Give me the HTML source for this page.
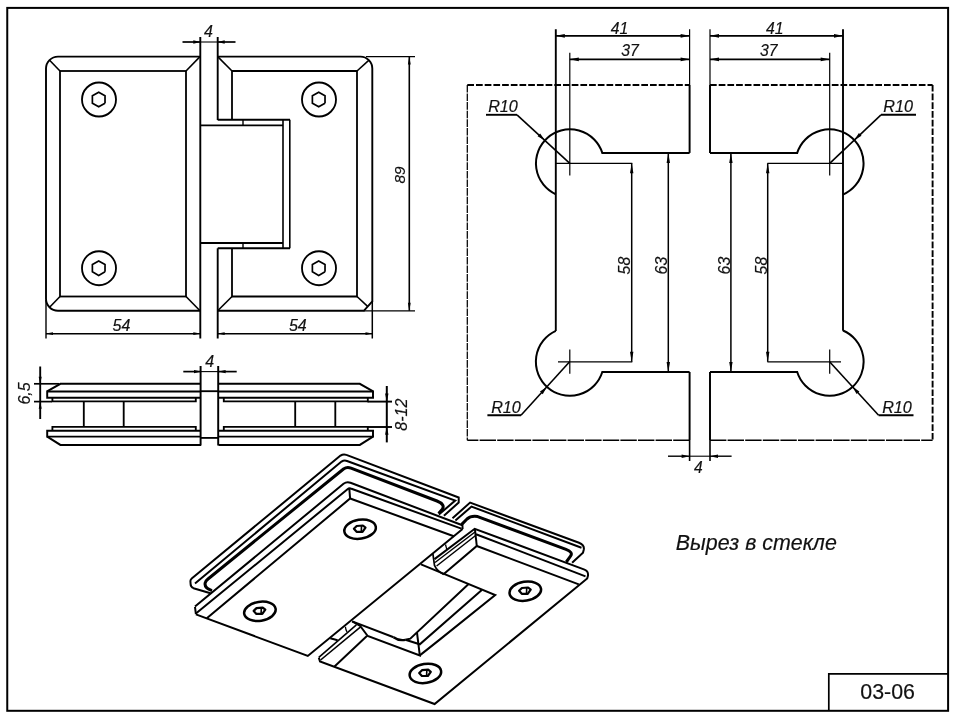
<!DOCTYPE html>
<html><head><meta charset="utf-8"><title>03-06</title>
<style>
html,body{margin:0;padding:0;background:#fff;}
body{width:957px;height:722px;overflow:hidden;}
svg{display:block;filter:grayscale(1);}
svg *{font-family:"Liberation Sans",sans-serif;}
</style></head>
<body>
<svg width="957" height="722" viewBox="0 0 957 722">
<rect x="0" y="0" width="957" height="722" fill="#fff" stroke="none"/>
<g fill="none" stroke="#000" stroke-linecap="butt" stroke-linejoin="miter">
<rect x="7.25" y="7.9" width="940.85" height="702.9" stroke-width="2.0"/>
<polyline points="828.8,711 828.8,673.9 948,673.9" stroke-width="1.7" />
<text fill="#111" stroke="#111" stroke-width="0.18" x="887.6" y="698.9" font-size="21.4" text-anchor="middle" style="" >03-06</text>
<text fill="#111" stroke="#111" stroke-width="0.18" x="756.3" y="549.9" font-size="21.4" text-anchor="middle" style="font-style:italic;" >Вырез в стекле</text>
<path d="M200.3,56.6 H58 A12,12 0 0 0 46,68.6 V298.8 A12,12 0 0 0 58,310.8 H200.3" stroke-width="1.9" />
<rect x="60" y="71" width="126" height="225.5" stroke-width="1.8"/>
<line x1="49.6" y1="60.2" x2="60" y2="71" stroke-width="1.6" />
<line x1="200" y1="56.6" x2="186" y2="71" stroke-width="1.6" />
<line x1="49.6" y1="307.2" x2="60" y2="296.5" stroke-width="1.6" />
<line x1="200" y1="310.8" x2="186" y2="296.5" stroke-width="1.6" />
<line x1="200.3" y1="37" x2="200.3" y2="338.5" stroke-width="1.9" />
<line x1="217.7" y1="37" x2="217.7" y2="120" stroke-width="1.9" />
<line x1="217.7" y1="248.3" x2="217.7" y2="338.5" stroke-width="1.9" />
<path d="M217.7,56.6 H360.5 A12,12 0 0 1 372.3,68.6 V301.3 L363.8,310.8 H217.7" stroke-width="1.9" />
<polyline points="232,120 232,71 357,71 357,296.5 232,296.5 232,248.3" stroke-width="1.8" />
<line x1="217.7" y1="56.6" x2="232" y2="71" stroke-width="1.6" />
<line x1="369" y1="60.2" x2="357" y2="71" stroke-width="1.6" />
<line x1="217.7" y1="310.8" x2="232" y2="296.5" stroke-width="1.6" />
<line x1="367.6" y1="306.3" x2="357" y2="296.5" stroke-width="1.6" />
<line x1="217.7" y1="119.8" x2="290" y2="119.8" stroke-width="1.9" />
<line x1="200.3" y1="125.4" x2="283" y2="125.4" stroke-width="1.9" />
<line x1="217.7" y1="248.3" x2="290" y2="248.3" stroke-width="1.9" />
<line x1="200.3" y1="243" x2="283" y2="243" stroke-width="1.9" />
<line x1="283" y1="119.8" x2="283" y2="248.3" stroke-width="1.6" />
<line x1="289.8" y1="119.8" x2="289.8" y2="248.3" stroke-width="1.6" />
<line x1="243" y1="119.8" x2="243" y2="125.4" stroke-width="1.4" />
<line x1="243" y1="243" x2="243" y2="248.3" stroke-width="1.4" />
<circle cx="99" cy="99.5" r="17" stroke-width="1.85"/>
<polyline points="105.02,103.15 98.7,106.8 92.38,103.15 92.38,95.85 98.7,92.2 105.02,95.85 105.02,103.15" stroke-width="1.7" />
<circle cx="99" cy="268.2" r="17" stroke-width="1.85"/>
<polyline points="105.02,271.85 98.7,275.5 92.38,271.85 92.38,264.55 98.7,260.9 105.02,264.55 105.02,271.85" stroke-width="1.7" />
<circle cx="319" cy="99.5" r="17" stroke-width="1.85"/>
<polyline points="325.02,103.15 318.7,106.8 312.38,103.15 312.38,95.85 318.7,92.2 325.02,95.85 325.02,103.15" stroke-width="1.7" />
<circle cx="319" cy="268.2" r="17" stroke-width="1.85"/>
<polyline points="325.02,271.85 318.7,275.5 312.38,271.85 312.38,264.55 318.7,260.9 325.02,264.55 325.02,271.85" stroke-width="1.7" />
<line x1="182.5" y1="42" x2="200.3" y2="42" stroke-width="1.7" />
<line x1="217.7" y1="42" x2="235.5" y2="42" stroke-width="1.7" />
<line x1="200.3" y1="42" x2="217.7" y2="42" stroke-width="1.1" />
<polygon points="200.30,42.00 193.30,43.70 193.30,40.30" fill="#000" stroke="none"/>
<polygon points="217.70,42.00 224.70,40.30 224.70,43.70" fill="#000" stroke="none"/>
<text fill="#111" stroke="#111" stroke-width="0.18" x="208.5" y="37.2" font-size="16" text-anchor="middle" style="font-style:italic;" >4</text>
<line x1="46" y1="300" x2="46" y2="338.5" stroke-width="1.4" />
<line x1="372.3" y1="301" x2="372.3" y2="338.5" stroke-width="1.5" />
<line x1="46" y1="333.7" x2="200.3" y2="333.7" stroke-width="1.6" />
<line x1="217.7" y1="333.7" x2="372.5" y2="333.7" stroke-width="1.6" />
<polygon points="46.00,333.60 53.00,332.30 53.00,334.90" fill="#000" stroke="none"/>
<polygon points="200.30,333.60 193.30,334.90 193.30,332.30" fill="#000" stroke="none"/>
<polygon points="217.70,333.60 224.70,332.30 224.70,334.90" fill="#000" stroke="none"/>
<polygon points="372.50,333.60 365.50,334.90 365.50,332.30" fill="#000" stroke="none"/>
<text fill="#111" stroke="#111" stroke-width="0.18" x="121.5" y="331.3" font-size="16" text-anchor="middle" style="font-style:italic;" >54</text>
<text fill="#111" stroke="#111" stroke-width="0.18" x="297.8" y="331.3" font-size="16" text-anchor="middle" style="font-style:italic;" >54</text>
<line x1="366" y1="56.6" x2="415" y2="56.6" stroke-width="1.3" />
<line x1="363.8" y1="310.8" x2="415" y2="310.8" stroke-width="1.3" />
<line x1="409.3" y1="56.6" x2="409.3" y2="310.8" stroke-width="1.6" />
<polygon points="409.30,56.60 410.70,64.60 407.90,64.60" fill="#000" stroke="none"/>
<polygon points="409.30,310.80 407.90,302.80 410.70,302.80" fill="#000" stroke="none"/>
<text fill="#111" stroke="#111" stroke-width="0.18" x="405.3" y="175" font-size="15.4" text-anchor="middle" style="font-style:italic;" transform="rotate(-90 405.3 175)" >89</text>
<polyline points="201,383.8 60.400000000000006,383.8 48.400000000000006,390.6 47.2,391.4" stroke-width="1.95" />
<polyline points="201,391.4 47.2,391.4 47.2,397.8 201,397.8" stroke-width="1.95" />
<polyline points="195.8,397.8 195.8,401.4 52.400000000000006,401.4 52.400000000000006,397.8" stroke-width="1.85" />
<polyline points="195.8,430.7 195.8,426.8 52.400000000000006,426.8 52.400000000000006,430.7" stroke-width="1.85" />
<polyline points="201,430.7 47.2,430.7 47.2,436.6 201,436.6" stroke-width="1.95" />
<polyline points="47.2,436.6 48.400000000000006,437.4 60.400000000000006,444.9 201,444.9" stroke-width="1.95" />
<polyline points="218.6,383.8 359.8,383.8 371.8,390.6 373,391.4" stroke-width="1.95" />
<polyline points="218.6,391.4 373,391.4 373,397.8 218.6,397.8" stroke-width="1.95" />
<polyline points="223.79999999999998,397.8 223.79999999999998,401.4 367.8,401.4 367.8,397.8" stroke-width="1.85" />
<polyline points="223.79999999999998,430.7 223.79999999999998,426.8 367.8,426.8 367.8,430.7" stroke-width="1.85" />
<polyline points="218.6,430.7 373,430.7 373,436.6 218.6,436.6" stroke-width="1.95" />
<polyline points="373,436.6 371.8,437.4 359.8,444.9 218.6,444.9" stroke-width="1.95" />
<line x1="200.6" y1="366" x2="200.6" y2="445.5" stroke-width="1.95" />
<line x1="218.2" y1="366" x2="218.2" y2="445.5" stroke-width="1.95" />
<line x1="200.6" y1="391.2" x2="218.2" y2="391.2" stroke-width="1.85" />
<line x1="200.6" y1="437.9" x2="218.2" y2="437.9" stroke-width="1.85" />
<line x1="83.8" y1="401.4" x2="83.8" y2="426.8" stroke-width="1.85" />
<line x1="123.7" y1="401.4" x2="123.7" y2="426.8" stroke-width="1.85" />
<line x1="295.2" y1="401.4" x2="295.2" y2="426.8" stroke-width="1.85" />
<line x1="335.3" y1="401.4" x2="335.3" y2="426.8" stroke-width="1.85" />
<line x1="183.3" y1="371.6" x2="201" y2="371.6" stroke-width="1.7" />
<line x1="218.6" y1="371.6" x2="236.7" y2="371.6" stroke-width="1.7" />
<line x1="201" y1="371.6" x2="218.6" y2="371.6" stroke-width="1.1" />
<polygon points="201.00,371.60 194.00,373.30 194.00,369.90" fill="#000" stroke="none"/>
<polygon points="218.60,371.60 225.60,369.90 225.60,373.30" fill="#000" stroke="none"/>
<text fill="#111" stroke="#111" stroke-width="0.18" x="209.6" y="366.9" font-size="16" text-anchor="middle" style="font-style:italic;" >4</text>
<line x1="40.2" y1="366.5" x2="40.2" y2="419" stroke-width="1.9" />
<line x1="34" y1="383.8" x2="59" y2="383.8" stroke-width="1.7" />
<line x1="34" y1="401.6" x2="52" y2="401.6" stroke-width="1.7" />
<polygon points="40.20,383.80 38.70,376.80 41.70,376.80" fill="#000" stroke="none"/>
<polygon points="40.20,401.80 41.70,408.80 38.70,408.80" fill="#000" stroke="none"/>
<text fill="#111" stroke="#111" stroke-width="0.18" x="30.2" y="393.4" font-size="16" text-anchor="middle" style="font-style:italic;" transform="rotate(-90 30.2 393.4)" >6,5</text>
<line x1="386.8" y1="386" x2="386.8" y2="442.4" stroke-width="2.0" />
<line x1="367.5" y1="401.6" x2="392" y2="401.6" stroke-width="1.9" />
<line x1="367.5" y1="427" x2="392" y2="427" stroke-width="1.9" />
<polygon points="386.80,401.40 385.10,393.40 388.50,393.40" fill="#000" stroke="none"/>
<polygon points="386.80,426.80 388.50,434.80 385.10,434.80" fill="#000" stroke="none"/>
<text fill="#111" stroke="#111" stroke-width="0.18" x="406.9" y="414.6" font-size="16" text-anchor="middle" style="font-style:italic;" transform="rotate(-90 406.9 414.6)" >8-12</text>
<line x1="467.3" y1="84.9" x2="689.6" y2="84.9" stroke-width="2.0" stroke-dasharray="6.7 2.0"/>
<line x1="710" y1="84.9" x2="932.6" y2="84.9" stroke-width="2.0" stroke-dasharray="6.7 2.0"/>
<line x1="932.6" y1="84.9" x2="932.6" y2="440.2" stroke-width="1.9" stroke-dasharray="6.7 2.0"/>
<line x1="467.3" y1="84.9" x2="467.3" y2="440.2" stroke-width="1.25" stroke-dasharray="7.6 1.0"/>
<line x1="689.6" y1="440.2" x2="467.3" y2="440.2" stroke-width="1.35" stroke-dasharray="16.4 1.2"/>
<line x1="710" y1="440.2" x2="932.6" y2="440.2" stroke-width="1.35" stroke-dasharray="16.4 1.2"/>
<line x1="555.8" y1="29.2" x2="555.8" y2="331.11613323034067" stroke-width="1.9" />
<line x1="689.6" y1="29.2" x2="689.6" y2="85" stroke-width="1.2" />
<line x1="689.6" y1="85" x2="689.6" y2="152.9" stroke-width="1.95" />
<line x1="689.6" y1="372" x2="689.6" y2="440" stroke-width="1.95" />
<line x1="689.6" y1="440" x2="689.6" y2="461" stroke-width="1.6" />
<path d="M689.6,152.9 H602.30 A34,34 0 1 0 555.8,194.28" stroke-width="2.0" />
<path d="M689.6,372 H602.30 A34,34 0 1 1 555.8,330.82" stroke-width="2.0" />
<line x1="569.8" y1="52.8" x2="569.8" y2="175.5" stroke-width="1.2" />
<line x1="569.8" y1="349.5" x2="569.8" y2="373.8" stroke-width="1.2" />
<line x1="843" y1="29.2" x2="843" y2="330.80926654742655" stroke-width="1.9" />
<line x1="710" y1="29.2" x2="710" y2="85" stroke-width="1.2" />
<line x1="710" y1="85" x2="710" y2="152.9" stroke-width="1.95" />
<line x1="710" y1="372" x2="710" y2="440" stroke-width="1.95" />
<line x1="710" y1="440" x2="710" y2="461" stroke-width="1.6" />
<path d="M710,152.9 H797.20 A34,34 0 1 1 843,194.59" stroke-width="2.0" />
<path d="M710,372 H797.20 A34,34 0 1 0 843,330.51" stroke-width="2.0" />
<line x1="829.7" y1="52.8" x2="829.7" y2="175.5" stroke-width="1.2" />
<line x1="829.7" y1="349.5" x2="829.7" y2="373.8" stroke-width="1.2" />
<line x1="555.8" y1="163.3" x2="632.3" y2="163.3" stroke-width="1.2" />
<line x1="558" y1="361.8" x2="632.3" y2="361.8" stroke-width="1.3" />
<line x1="767.4" y1="163.3" x2="843" y2="163.3" stroke-width="1.2" />
<line x1="767.4" y1="361.8" x2="841" y2="361.8" stroke-width="1.3" />
<line x1="555.8" y1="35.8" x2="689.6" y2="35.8" stroke-width="1.8" />
<polygon points="555.80,35.80 564.80,33.90 564.80,37.70" fill="#000" stroke="none"/>
<polygon points="689.60,35.80 680.60,37.70 680.60,33.90" fill="#000" stroke="none"/>
<line x1="569.8" y1="59.3" x2="689.6" y2="59.3" stroke-width="1.8" />
<polygon points="569.80,59.30 578.80,57.40 578.80,61.20" fill="#000" stroke="none"/>
<polygon points="689.60,59.30 680.60,61.20 680.60,57.40" fill="#000" stroke="none"/>
<line x1="710" y1="35.8" x2="843" y2="35.8" stroke-width="1.8" />
<polygon points="710.00,35.80 719.00,33.90 719.00,37.70" fill="#000" stroke="none"/>
<polygon points="843.00,35.80 834.00,37.70 834.00,33.90" fill="#000" stroke="none"/>
<line x1="710" y1="59.3" x2="829.7" y2="59.3" stroke-width="1.8" />
<polygon points="710.00,59.30 719.00,57.40 719.00,61.20" fill="#000" stroke="none"/>
<polygon points="829.70,59.30 820.70,61.20 820.70,57.40" fill="#000" stroke="none"/>
<text fill="#111" stroke="#111" stroke-width="0.18" x="619.5" y="34.0" font-size="15.8" text-anchor="middle" style="font-style:italic;" >41</text>
<text fill="#111" stroke="#111" stroke-width="0.18" x="630" y="56.1" font-size="15.8" text-anchor="middle" style="font-style:italic;" >37</text>
<text fill="#111" stroke="#111" stroke-width="0.18" x="774.8" y="34.0" font-size="15.8" text-anchor="middle" style="font-style:italic;" >41</text>
<text fill="#111" stroke="#111" stroke-width="0.18" x="768.8" y="56.1" font-size="15.8" text-anchor="middle" style="font-style:italic;" >37</text>
<line x1="631.7" y1="163.3" x2="631.7" y2="361.8" stroke-width="1.5" />
<polygon points="631.70,163.30 633.40,173.30 630.00,173.30" fill="#000" stroke="none"/>
<polygon points="631.70,361.80 630.00,351.80 633.40,351.80" fill="#000" stroke="none"/>
<line x1="668.3" y1="152.9" x2="668.3" y2="372" stroke-width="1.5" />
<polygon points="668.30,152.90 670.00,162.90 666.60,162.90" fill="#000" stroke="none"/>
<polygon points="668.30,372.00 666.60,362.00 670.00,362.00" fill="#000" stroke="none"/>
<line x1="767.7" y1="163.3" x2="767.7" y2="361.8" stroke-width="1.5" />
<polygon points="767.70,163.30 769.40,173.30 766.00,173.30" fill="#000" stroke="none"/>
<polygon points="767.70,361.80 766.00,351.80 769.40,351.80" fill="#000" stroke="none"/>
<line x1="730.9" y1="152.9" x2="730.9" y2="372" stroke-width="1.5" />
<polygon points="730.90,152.90 732.60,162.90 729.20,162.90" fill="#000" stroke="none"/>
<polygon points="730.90,372.00 729.20,362.00 732.60,362.00" fill="#000" stroke="none"/>
<text fill="#111" stroke="#111" stroke-width="0.18" x="630.3" y="265.6" font-size="15.8" text-anchor="middle" style="font-style:italic;" transform="rotate(-90 630.3 265.6)" >58</text>
<text fill="#111" stroke="#111" stroke-width="0.18" x="666.9" y="265.6" font-size="15.8" text-anchor="middle" style="font-style:italic;" transform="rotate(-90 666.9 265.6)" >63</text>
<text fill="#111" stroke="#111" stroke-width="0.18" x="766.6" y="265.6" font-size="15.8" text-anchor="middle" style="font-style:italic;" transform="rotate(-90 766.6 265.6)" >58</text>
<text fill="#111" stroke="#111" stroke-width="0.18" x="729.6" y="265.6" font-size="15.8" text-anchor="middle" style="font-style:italic;" transform="rotate(-90 729.6 265.6)" >63</text>
<line x1="486" y1="114.8" x2="517" y2="114.8" stroke-width="1.9" />
<line x1="517" y1="114.8" x2="569.8" y2="163.3" stroke-width="1.6" />
<polygon points="544.76,140.30 537.58,136.29 540.15,133.49" fill="#000" stroke="none"/>
<text fill="#111" stroke="#111" stroke-width="0.18" x="503" y="112.1" font-size="16.2" text-anchor="middle" style="font-style:italic;" >R10</text>
<line x1="487.4" y1="415.3" x2="521" y2="415.3" stroke-width="1.9" />
<line x1="521" y1="415.3" x2="569.6" y2="361.8" stroke-width="1.6" />
<polygon points="546.74,386.97 542.77,394.17 539.95,391.61" fill="#000" stroke="none"/>
<text fill="#111" stroke="#111" stroke-width="0.18" x="506" y="412.5" font-size="16.2" text-anchor="middle" style="font-style:italic;" >R10</text>
<line x1="881" y1="114.8" x2="916" y2="114.8" stroke-width="1.9" />
<line x1="881" y1="114.8" x2="829.7" y2="163.3" stroke-width="1.6" />
<polygon points="854.41,139.94 858.91,133.07 861.52,135.83" fill="#000" stroke="none"/>
<text fill="#111" stroke="#111" stroke-width="0.18" x="898.2" y="112.1" font-size="16.2" text-anchor="middle" style="font-style:italic;" >R10</text>
<line x1="878.6" y1="415.3" x2="913.5" y2="415.3" stroke-width="1.9" />
<line x1="878.6" y1="415.3" x2="829.6" y2="361.8" stroke-width="1.6" />
<polygon points="852.56,386.87 859.37,391.49 856.57,394.06" fill="#000" stroke="none"/>
<text fill="#111" stroke="#111" stroke-width="0.18" x="897" y="412.5" font-size="16.2" text-anchor="middle" style="font-style:italic;" >R10</text>
<line x1="668" y1="456.2" x2="689.6" y2="456.2" stroke-width="1.4" />
<line x1="710" y1="456.2" x2="731.6" y2="456.2" stroke-width="1.4" />
<line x1="689.6" y1="456.2" x2="710" y2="456.2" stroke-width="1.1" />
<polygon points="689.60,456.20 681.60,458.00 681.60,454.40" fill="#000" stroke="none"/>
<polygon points="710.00,456.20 718.00,454.40 718.00,458.00" fill="#000" stroke="none"/>
<text fill="#111" stroke="#111" stroke-width="0.18" x="698.3" y="472.9" font-size="15.6" text-anchor="middle" style="font-style:italic;" >4</text>
<path d="M210.5,593.3 L193.5,588.2 Q190.6,587 190.6,584 L190.4,581 Q190.4,579.6 192,578.3 L340.5,455.6 Q343.4,453.6 346.4,454.9 L458.7,497.5 L458.7,502.6 L443.9,515.7" stroke-width="2.0" />
<path d="M195,583.4 L341.5,461.6 Q344.2,460 347,461 L455.2,500.6 L438.9,514.5" stroke-width="2.0" />
<path d="M212,590.6 Q204,588 205.2,582.8 Q205.6,581 208,579 L343.5,469 Q347,466.6 351,468.2 L437,501 Q445.5,504.5 442.3,509.3 L438.6,513.6" stroke-width="3.0" stroke-linejoin="round"/>
<path d="M195,606.6 L343.5,483.8 Q346.8,481.4 350.5,482.8 L462.4,525.2 L462.6,529" stroke-width="2.0" />
<line x1="195" y1="607" x2="195.9" y2="614.2" stroke-width="2.0" />
<path d="M195.9,613.6 L347.5,489.2 Q349.3,487.8 351.5,488.8 L461.4,528.6" stroke-width="2.0" />
<line x1="349.3" y1="488.5" x2="350.1" y2="498.5" stroke-width="2.0" />
<polyline points="206.8,618.2 350.1,498.5 453.8,536.2" stroke-width="2.0" />
<polyline points="195.9,614.4 307.8,655.9 462.6,529" stroke-width="2.0" />
<path d="M452.5,518.2 L470.1,502.6 L579,542.8 Q584.6,545 583.8,549.5 L583,552.8 L572.1,562.8" stroke-width="2.0" />
<path d="M455.4,520.4 L471.5,506.6 L581.5,547.8" stroke-width="2.0" />
<path d="M461.5,524.6 L467,519 Q471,515.5 477.7,516.6 L566,549.4 Q573.5,552.2 570.5,556.2 L566.3,562" stroke-width="3.0" stroke-linejoin="round"/>
<path d="M434.5,559.1 L474.7,528.8 L584.5,569.6 Q588.5,571.2 588,575.5 L587.2,578.4 L434.6,704 L320,661.5 L318.8,657.6" stroke-width="2.0" />
<path d="M476,534.2 L585.5,576.4" stroke-width="2.0" />
<line x1="474.9" y1="529" x2="476.8" y2="546" stroke-width="2.0" />
<polyline points="443.8,573.9 476.8,546 578.8,584.4" stroke-width="2.0" />
<line x1="475" y1="532.0" x2="435" y2="562.5" stroke-width="1.5" />
<line x1="475.6" y1="535.5" x2="436.6" y2="566" stroke-width="1.5" />
<path d="M432.9,553.9 L434.5,565.4 Q437,571 443.8,574.6" stroke-width="1.7" />
<polyline points="318.8,657.4 356.4,624.9" stroke-width="1.6" />
<polyline points="320.6,660 360.6,626.8" stroke-width="1.6" />
<polyline points="334.5,666.6 366.9,636.1" stroke-width="2.0" />
<line x1="330.3" y1="638.2" x2="337.6" y2="640.3" stroke-width="2.0" />
<path d="M345.4,626.7 Q345.6,629.5 347,631.9" stroke-width="1.3" />
<line x1="445.5" y1="544.5" x2="447" y2="550.2" stroke-width="1.3" />
<polyline points="421,564.3 495.2,595.1 440,639.4 419.8,655.4" stroke-width="2.0" />
<polyline points="352.2,621.4 393.6,637.2" stroke-width="2.0" />
<path d="M393.6,637.2 Q399,641.2 405.4,639.8" stroke-width="2.4" />
<polyline points="405.4,639.8 410.3,638.7 468.6,584.1" stroke-width="2.0" />
<polyline points="405.4,639.8 419.8,644.3 481.8,590" stroke-width="2.0" />
<polyline points="352.2,621.4 360.2,625.9 367.7,636 419.8,655.4 417,632.6" stroke-width="2.0" />
<ellipse cx="360.1" cy="529.2" rx="15.9" ry="9.5" stroke-width="2.5" transform="rotate(-9 360.1 529.2)"/>
<polygon points="353.90,528.80 356.70,526.00 362.90,525.50 365.50,527.60 362.50,531.80 356.60,531.80" stroke-width="2.2" stroke-linejoin="round"/>
<line x1="361.5" y1="526.0" x2="361.3" y2="531.6" stroke-width="1.6" />
<ellipse cx="259.9" cy="611.3" rx="15.9" ry="9.5" stroke-width="2.5" transform="rotate(-9 259.9 611.3)"/>
<polygon points="253.70,610.90 256.50,608.10 262.70,607.60 265.30,609.70 262.30,613.90 256.40,613.90" stroke-width="2.2" stroke-linejoin="round"/>
<line x1="261.29999999999995" y1="608.0999999999999" x2="261.09999999999997" y2="613.6999999999999" stroke-width="1.6" />
<ellipse cx="525.3" cy="591.2" rx="15.9" ry="9.5" stroke-width="2.5" transform="rotate(-9 525.3 591.2)"/>
<polygon points="519.10,590.80 521.90,588.00 528.10,587.50 530.70,589.60 527.70,593.80 521.80,593.80" stroke-width="2.2" stroke-linejoin="round"/>
<line x1="526.6999999999999" y1="588.0" x2="526.5" y2="593.6" stroke-width="1.6" />
<ellipse cx="425.4" cy="673.4" rx="15.9" ry="9.5" stroke-width="2.5" transform="rotate(-9 425.4 673.4)"/>
<polygon points="419.20,673.00 422.00,670.20 428.20,669.70 430.80,671.80 427.80,676.00 421.90,676.00" stroke-width="2.2" stroke-linejoin="round"/>
<line x1="426.79999999999995" y1="670.1999999999999" x2="426.59999999999997" y2="675.8" stroke-width="1.6" />
</g>
</svg>
</body></html>
